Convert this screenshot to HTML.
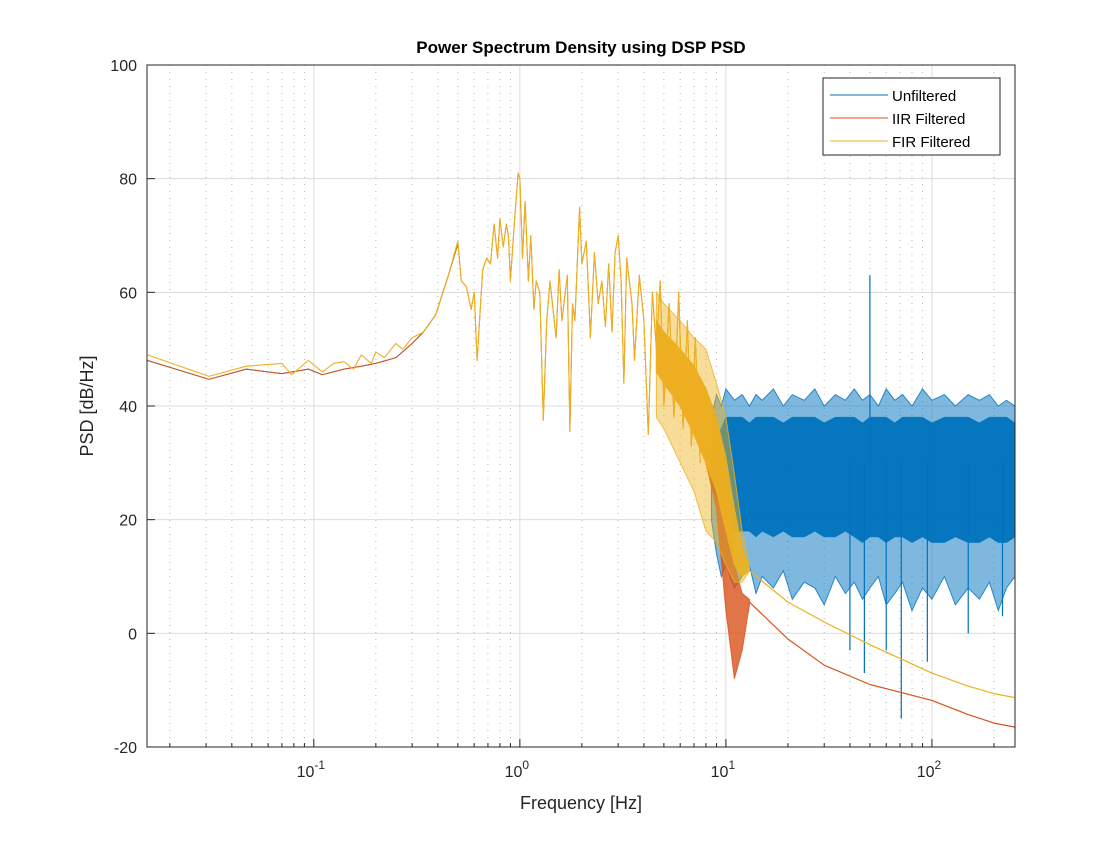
<!DOCTYPE html>
<html><head><meta charset="utf-8"><style>
body{margin:0;background:#fff;}
svg text{font-family:"Liberation Sans",Arial,sans-serif;}
</style></head><body>
<svg id="chart" width="1120" height="840" xmlns="http://www.w3.org/2000/svg">
<rect width="1120" height="840" fill="#fff"/>
<g id="grid"></g>
<g id="series"></g>
<rect x="147" y="65" width="868" height="682" fill="none" stroke="#262626" stroke-width="1"/>
<g id="axes"></g>
<text x="581" y="53" text-anchor="middle" font-size="17" font-weight="bold" fill="#000">Power Spectrum Density using DSP PSD</text>
<text x="581" y="809" text-anchor="middle" font-size="18" fill="#262626">Frequency [Hz]</text>
<text transform="translate(93,406) rotate(-90)" text-anchor="middle" font-size="18" fill="#262626">PSD [dB/Hz]</text>
<g>
<rect x="823" y="78" width="177" height="77" fill="#fff" stroke="#262626" stroke-width="1"/>
<line x1="830" y1="95" x2="888" y2="95" stroke="#0072BD" stroke-width="1"/>
<text x="892" y="101" font-size="15" fill="#000">Unfiltered</text>
<line x1="830" y1="118" x2="888" y2="118" stroke="#D95319" stroke-width="1"/>
<text x="892" y="124" font-size="15" fill="#000">IIR Filtered</text>
<line x1="830" y1="141" x2="888" y2="141" stroke="#EDB120" stroke-width="1"/>
<text x="892" y="147" font-size="15" fill="#000">FIR Filtered</text>
</g>
</svg>
<script>
// ---- data ----
const yTicks=[-20,0,20,40,60,80,100];
const xDecades=[-1,0,1,2];
const firF=[0.0156,0.031,0.047,0.07,0.078,0.094,0.11,0.125,0.14,0.156,0.17,0.19,0.2,0.22,0.25,0.27,0.3,0.34,0.39,0.45,0.5,0.52,0.55,0.58,0.6,0.62,0.66,0.69,0.72,0.75,0.78,0.8,0.83,0.86,0.88,0.9,0.94,0.98,1.0,1.03,1.06,1.1,1.13,1.17,1.2,1.25,1.3,1.35,1.4,1.5,1.55,1.6,1.7,1.75,1.8,1.85,1.95,2.0,2.1,2.2,2.3,2.4,2.5,2.6,2.7,2.8,2.9,3.0,3.1,3.2,3.3,3.5,3.6,3.8,4.0,4.2,4.4,4.6,4.8,5.0,5.3,5.6,5.9,6.2,6.5,6.8,7.1,7.5];
const firV=[49,45.2,47,47.5,45.5,48,46,47.5,47.8,46.5,49,47.5,49.5,48.5,51,50,52,53,56,63,69,62,61,57,60,48,64,66,65,72,66,73,68,72,70,62,72,81,80,66,76,62,70,57,62,60,37.5,55,62,52,64,55,63,35.5,58,55,75,65,69,52,67,58,62,54,65,53,67,70,62,44,66,58,48,63,55,35,60,50,62,40,58,38,60,36,55,33,52,30];
const lowF=[0.0156,0.031,0.047,0.07,0.094,0.11,0.14,0.17,0.2,0.25,0.3,0.34,0.39,0.45,0.5];
const lowV=[48,44.7,46.5,45.7,46.5,45.5,46.5,47,47.5,48.5,51,53,56,63,68.5];
const bandF=[4.6,5,6,7,8,9,10,11,12,13];
const firOutHi=[60,58,55,52,50,44,38,28,18,12];
const firOutLo=[38,36,30,25,18,16,12,9,9,11];
const firHi=[55,53,50,47,43,38,31,22,15,11.5];
const firLo=[46,44,40,35,30,25,18,12,10,11];
const iirHi=[55,53,50,47,43,38,28,12,7,6];
const iirLo=[46,44,40,35,30,22,4,-8,-3,5];
const tailF=[13,20,30,50,100,150,200,253];
const firTail=[11,5.5,2,-2,-7,-9.3,-10.6,-11.3];
const iirTail=[5.5,-1,-5.6,-9,-11.8,-14.3,-15.8,-16.5];
const uF=[8.5,9,9.5,10,11,12,13,14,15,17,19,21,24,27,30,34,38,42,46,50,55,60,66,72,80,90,100,115,130,150,170,190,210,230,253];
const uHi=[38,42,40,43,41,42,40,42,41,43,40,42,41,43,40,42,41,43,41,42,40,43,41,42,40,43,41,42,40,42,41,42,40,41,40];
const uLo=[20,14,10,12,8,10,12,7,10,8,11,6,9,8,5,10,7,9,6,8,10,5,7,9,4,8,6,10,5,8,6,9,4,8,10];
const uCoreHi=[32,35,36,38,38,38,37,38,38,38,37,38,38,38,37,38,38,38,37,38,38,38,37,38,38,38,37,38,38,38,37,38,38,38,37];
const uCoreLo=[26,24,22,20,18,18,18,17,18,17,18,17,17,18,17,17,18,17,16,17,17,16,17,17,16,17,16,16,17,16,16,17,16,16,17];
const uSpikeF=[50,47,71,40,95,60,150,220];
const uSpikeV=[63,-7,-15,-3,-5,-3,0,3];

// ---- axes functions ----
const X0=147,X1=1015,Y0=65,Y1=747;
const lmin=Math.log10(0.0155),lmax=Math.log10(253);
const sx=f=>X0+(Math.log10(f)-lmin)/(lmax-lmin)*(X1-X0);
const sy=v=>Y1-(v+20)/120*(Y1-Y0);
const NS='http://www.w3.org/2000/svg';
function mk(tag,attrs,parent){const e=document.createElementNS(NS,tag);for(const k in attrs)e.setAttribute(k,attrs[k]);parent.appendChild(e);return e;}
const grid=document.getElementById('grid'),axes=document.getElementById('axes'),ser=document.getElementById('series');

for(let d=-2;d<=2;d++){for(let m=1;m<10;m++){const f=m*Math.pow(10,d);if(f<0.0155||f>253)continue;const x=sx(f);
 if(m===1){const g=mk('line',{x1:x,x2:x,y1:Y0,y2:Y1,stroke:'#dcdcdc','stroke-width':1},grid);
 
 }
 else{const g=mk('line',{x1:x,x2:x,y1:Y0,y2:Y1,stroke:'#b4b4b4','stroke-width':1,'stroke-dasharray':'1,6'},grid);
 
 
 const t1=mk('line',{x1:x,x2:x,y1:Y1,y2:Y1-4,stroke:'#262626'},axes);
 
 }
}}
yTicks.forEach(v=>{const y=sy(v);
 const g=mk('line',{x1:X0,x2:X1,y1:y,y2:y,stroke:'#dcdcdc'},grid);
 
 
 const t=mk('text',{x:X0-10,y:y+6,'text-anchor':'end','font-size':16,fill:'#262626'},axes);t.textContent=v;
 
 
 const tk=mk('line',{x1:X0,x2:X0+8,y1:y,y2:y,stroke:'#262626'},axes);
 
 
});
xDecades.forEach(d=>{const x=sx(Math.pow(10,d));
 const tk=mk('line',{x1:x,x2:x,y1:Y1,y2:Y1-8,stroke:'#262626'},axes);
 
 
 const t=mk('text',{x:x-3,y:Y1+30,'text-anchor':'middle','font-size':16,fill:'#262626'},axes);
 
 
 t.appendChild(document.createTextNode('10'));
 const s=mk('tspan',{dy:-8,'font-size':12},t);s.textContent=String(d);
});

function line(fs,vs,col,w,name){const p=fs.map((f,i)=>sx(f).toFixed(1)+','+sy(vs[i]).toFixed(1)).join(' ');
 const e=mk('polyline',{points:p,fill:'none',stroke:col,'stroke-width':w,'stroke-linejoin':'round'},ser);
 
 }
function band(fs,hi,lo,col,op,name){const p=fs.map((f,i)=>sx(f).toFixed(1)+','+sy(hi[i]).toFixed(1)).concat(fs.slice().reverse().map((f,j)=>{const i=fs.length-1-j;return sx(f).toFixed(1)+','+sy(lo[i]).toFixed(1)})).join(' ');
 const e=mk('polygon',{points:p,fill:col,'fill-opacity':op,stroke:col,'stroke-width':1,'stroke-opacity':0.8},ser);
 
 }

// unfiltered
line(lowF,lowV,'#0072BD',1,'unfiltered-low-line');
band(uF,uHi,uLo,'#0072BD',0.5,'unfiltered-noise-band');
band(uF,uCoreHi,uCoreLo,'#0072BD',0.95,'unfiltered-noise-core');
uSpikeF.forEach((f,i)=>{const e=mk('line',{x1:sx(f),x2:sx(f),y1:sy(30),y2:sy(uSpikeV[i]),stroke:'#0072BD','stroke-width':1.2},ser);
 
 });
// IIR
line(lowF,lowV,'#D95319',1,'iir-low-line');
line(firF.slice(20),firV.slice(20),'#D95319',1,'iir-mid-line');
band(bandF,iirHi,iirLo,'#D95319',0.8,'iir-band');
line(tailF,iirTail,'#D95319',1.2,'iir-tail-line');
// FIR
line(firF,firV,'#EDB120',1.1,'fir-line');
band(bandF,firOutHi,firOutLo,'#EDB120',0.45,'fir-outer-band');
band(bandF,firHi,firLo,'#EDB120',0.9,'fir-band');
line(tailF,firTail,'#EDB120',1.2,'fir-tail-line');
</script>
</body></html>
